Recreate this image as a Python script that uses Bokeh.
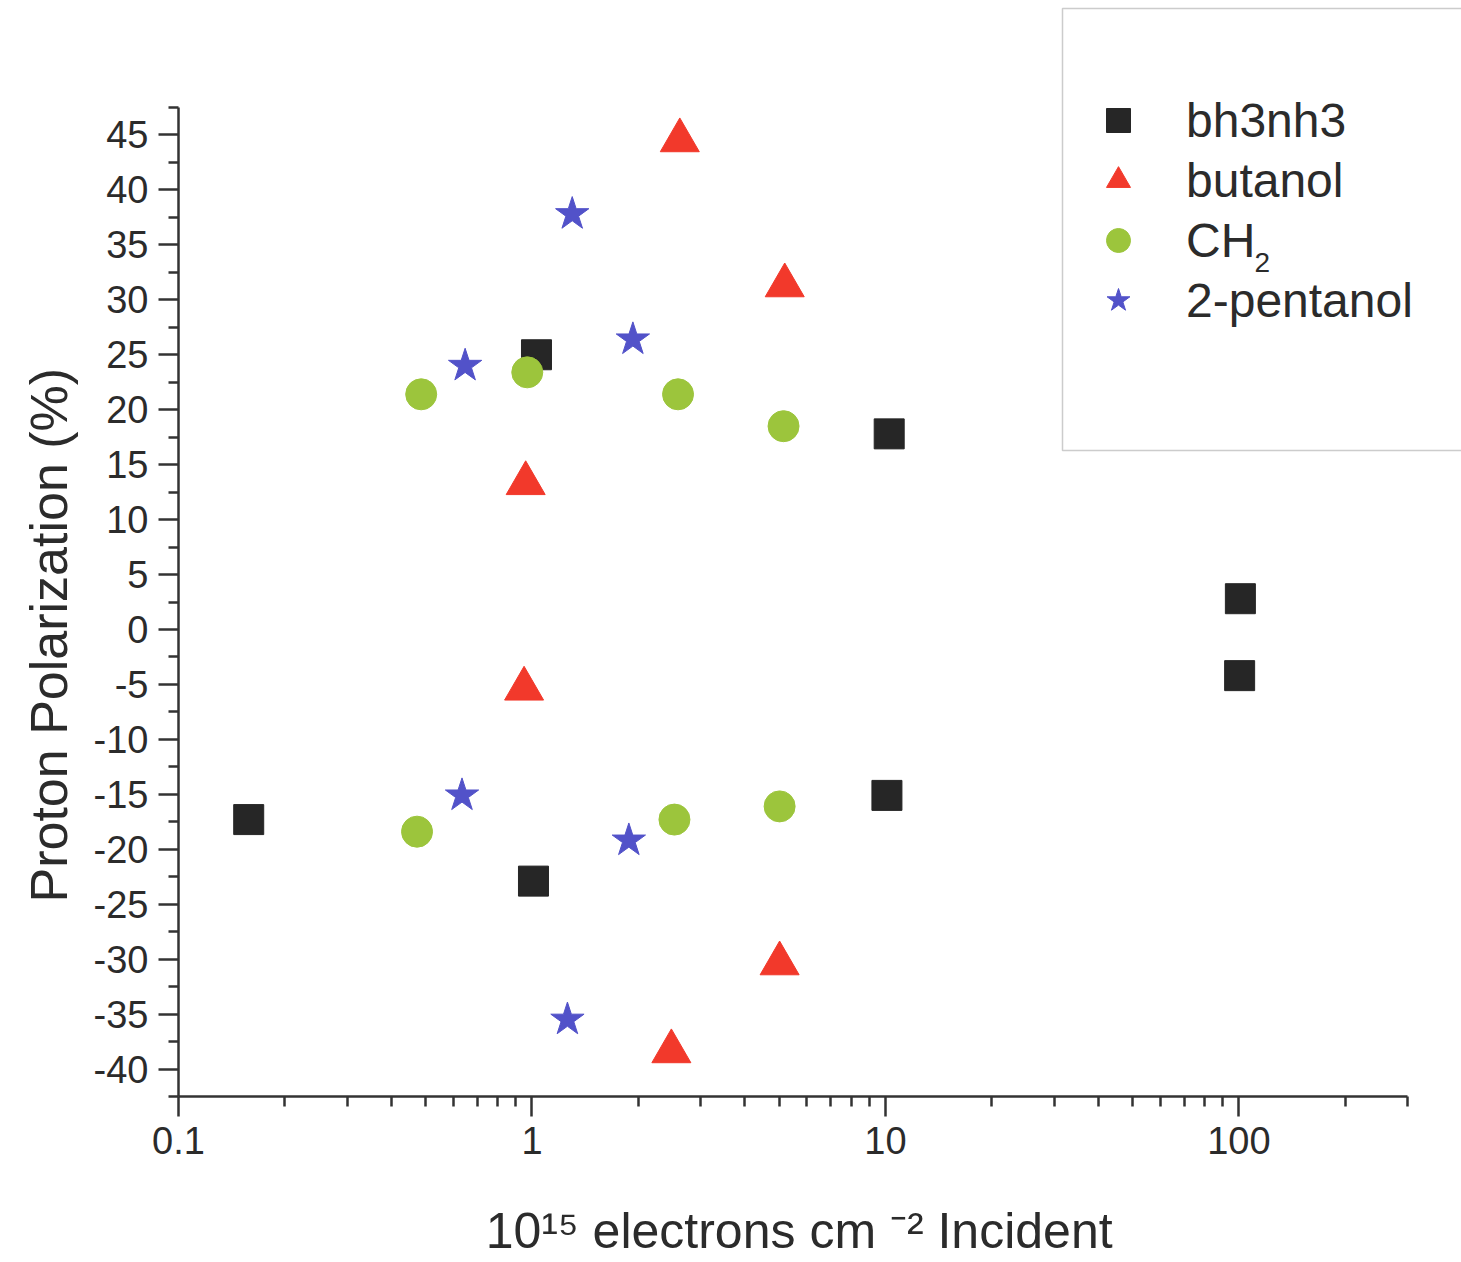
from bokeh.plotting import figure
from bokeh.models import (Range1d, FixedTicker, CustomJSTickFormatter, Legend, LegendItem,
                          Label, BoxAnnotation, Title)
from bokeh.embed import file_html
from bokeh.resources import INLINE
from math import log10

# ---- data ----
bh3nh3_x = [0.158, 1.03, 1.01, 10.25, 10.1, 101.0, 100.5]
bh3nh3_y = [-17.3, 25.0, -22.9, 17.8, -15.1, 2.8, -4.2]

butanol_x = [2.62, 5.19, 0.96, 0.95, 5.02, 2.48]
butanol_y = [44.5, 31.3, 13.3, -5.4, -30.4, -38.4]

ch2_x = [0.486, 0.97, 2.59, 5.15, 0.473, 2.53, 5.02]
ch2_y = [21.4, 23.4, 21.4, 18.5, -18.4, -17.3, -16.1]

pent_x = [1.30, 1.93, 0.647, 0.634, 1.88, 1.26]
pent_y = [37.8, 26.4, 24.0, -15.1, -19.2, -35.5]

series_names = ["bh3nh3", "butanol", "CH", "2-pentanol"]
x_ticks = [0.1, 1, 10, 100]
x_minor = [0.2, 0.3, 0.4, 0.5, 0.6, 0.7, 0.8, 0.9,
           2, 3, 4, 5, 6, 7, 8, 9,
           20, 30, 40, 50, 60, 70, 80, 90, 200, 300]
y_ticks = [-40, -35, -30, -25, -20, -15, -10, -5, 0, 5, 10, 15, 20, 25, 30, 35, 40, 45]
y_minor = [-42.5, -37.5, -32.5, -27.5, -22.5, -17.5, -12.5, -7.5, -2.5,
           2.5, 7.5, 12.5, 17.5, 22.5, 27.5, 32.5, 37.5, 42.5, 47.5]
x_bounds = (0.1, 300)
y_bounds = (-42.5, 47.5)
x_title = "10\u00b9\u2075 electrons cm \u207b\u00b2 Incident"
y_title = "Proton Polarization (%)"

FONT = "Liberation Sans"
TXT = "#2b2b2b"
W, H = 1461, 1262
FL, FB = 178, 1096      # frame left / bottom (canvas px) = axis positions
AX_R, AX_T = 1407, 107  # where the drawn axes end (canvas px)

# frame extends to the canvas top/right so the legend box is not clipped;
# the axis lines are limited with bounds
dec_per_px = (log10(x_bounds[1]) - log10(x_bounds[0])) / (AX_R - FL)
x_end = 10 ** (log10(x_bounds[0]) + dec_per_px * (W - FL))
u_per_px = (y_bounds[1] - y_bounds[0]) / (FB - AX_T)
y_end = y_bounds[0] + u_per_px * FB

p = figure(width=W, height=H, x_axis_type="log",
           x_range=Range1d(x_bounds[0], x_end), y_range=Range1d(y_bounds[0], y_end),
           output_backend="svg", toolbar_location=None,
           min_border_left=FL, min_border_right=0,
           min_border_top=0, min_border_bottom=H - FB)
p.outline_line_color = None
p.xgrid.visible = False
p.ygrid.visible = False
p.background_fill_color = "white"
p.border_fill_color = "white"

for ax in (p.xaxis[0], p.yaxis[0]):
    ax.axis_line_color = "#333333"
    ax.axis_line_width = 2.5
    ax.major_tick_line_color = "#333333"
    ax.major_tick_line_width = 2.5
    ax.minor_tick_line_color = "#333333"
    ax.minor_tick_line_width = 2.5
    ax.major_tick_in = 0
    ax.major_tick_out = 20
    ax.minor_tick_in = 0
    ax.minor_tick_out = 10
    ax.major_label_text_font = FONT
    ax.major_label_text_font_size = "38px"
    ax.major_label_text_color = TXT
    ax.formatter = CustomJSTickFormatter(code="return tick.toString()")

p.xaxis[0].ticker = FixedTicker(ticks=x_ticks, minor_ticks=x_minor)
p.xaxis[0].bounds = x_bounds
p.xaxis[0].major_label_standoff = 10
# x label: centred on the frame; trailing no-break spaces shift it left to match
p.xaxis[0].axis_label = x_title + "\u00a0\u00a0\u00a0"
p.xaxis[0].axis_label_standoff = 46
p.xaxis[0].axis_label_text_font = FONT
p.xaxis[0].axis_label_text_font_size = "50px"
p.xaxis[0].axis_label_text_font_style = "normal"
p.xaxis[0].axis_label_text_color = TXT

p.yaxis[0].ticker = FixedTicker(ticks=y_ticks, minor_ticks=y_minor)
p.yaxis[0].bounds = y_bounds
p.yaxis[0].major_label_standoff = 10

# y label as a Title so it can be shifted along the axis
p.add_layout(Title(text=y_title, align="left", offset=FB - 902, standoff=25,
                   text_font=FONT, text_font_size="52px", text_font_style="normal",
                   text_color=TXT), "left")

r1 = p.scatter(bh3nh3_x, bh3nh3_y, marker="square", size=30, color="#262626")
r2 = p.scatter(butanol_x, butanol_y, marker="triangle", size=39, color="#f2392b")
r3 = p.scatter(ch2_x, ch2_y, marker="circle", size=31, color="#9cc53c")
r4 = p.scatter(pent_x, pent_y, marker="star", size=35, color="#5252c9")

GL = 60   # legend glyph box = row pitch
legend = Legend(items=[LegendItem(label=n, renderers=[r]) for n, r in
                       zip(series_names, [r1, r2, r3, r4])],
                location=(1118 - GL // 2 - FL, FB - (120 - GL // 2) - 4 * GL),
                glyph_width=GL, glyph_height=GL, spacing=0, label_height=GL,
                padding=0, margin=0, label_standoff=1186 - (1118 + GL // 2),
                border_line_alpha=0, background_fill_alpha=0,
                label_text_font=FONT, label_text_font_size="48px",
                label_text_color=TXT)
p.add_layout(legend, "center")

p.add_layout(BoxAnnotation(left=1062 - FL, right=W + 20 - FL, top=FB - 8, bottom=FB - 450,
                           left_units="screen", right_units="screen",
                           top_units="screen", bottom_units="screen",
                           fill_alpha=0, line_color="#555555", line_width=1.5))

# subscript of CH2 in the legend
p.add_layout(Label(x=1254 - FL, y=FB - 271, x_units="screen", y_units="screen",
                   text="2", text_font=FONT, text_font_size="28px", text_color=TXT))

open("out.html", "w").write(file_html(p, INLINE))
